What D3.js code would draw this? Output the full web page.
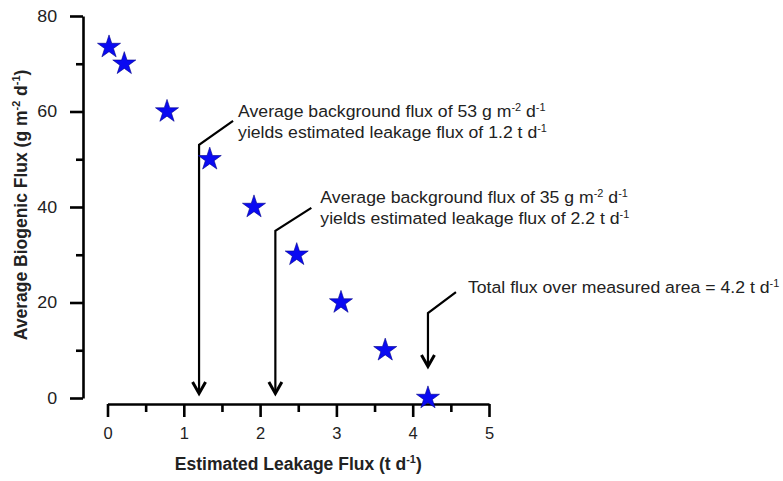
<!DOCTYPE html>
<html>
<head>
<meta charset="utf-8">
<script src="https://cdn.jsdelivr.net/npm/d3@7"></script>
<style>
  html, body { margin: 0; padding: 0; background: #fff; }
  svg { display: block; font-family: "Liberation Sans", Arial, sans-serif; }
</style>
</head>
<body>
<svg id="chart" width="783" height="481"></svg>
<script>
// Estimated leakage flux versus assumed average biogenic (background) flux
const leakageFlux = [0.02, 0.22, 0.78, 1.34, 1.92, 2.48, 3.06, 3.64, 4.2];
const biogenicFlux = [73.5, 70, 60, 50, 40, 30, 20, 10, 0];

const xMajorTicks = [0, 1, 2, 3, 4, 5];
const xMinorTicks = [0.5, 1.5, 2.5, 3.5, 4.5];
const yMajorTicks = [0, 20, 40, 60, 80];
const yMinorTicks = [10, 30, 50, 70];

// Annotations: leakage estimate (x), background flux at the elbow (y), two text lines
const annoLeakage = [1.2, 2.2, 4.2];
const annoBackground = [53, 35, 17.8];
const annoLine1 = [
  [["Average background flux of 53 g m", false], ["-2", true], [" d", false], ["-1", true]],
  [["Average background flux of 35 g m", false], ["-2", true], [" d", false], ["-1", true]],
  [["Total flux over measured area = 4.2 t d", false], ["-1", true]]
];
const annoLine2 = [
  [["yields estimated leakage flux of 1.2 t d", false], ["-1", true]],
  [["yields estimated leakage flux of 2.2 t d", false], ["-1", true]],
  []
];

const svg = d3.select("#chart");

const x = d3.scaleLinear().domain([0, 5]).range([107.5, 489]);
const y = d3.scaleLinear().domain([0, 80]).range([398, 16]);

const yAxisX = 83;
const xAxisY = 404;
const ink = "#000";
const labelInk = "#222";

// Y axis
const yAxis = svg.append("g").attr("transform", `translate(${yAxisX},0)`);
yAxis.call(d3.axisLeft(y).tickValues(yMajorTicks).tickFormat(d3.format("d"))
  .tickSize(13).tickPadding(11).tickSizeOuter(0));
yAxis.append("g").call(d3.axisLeft(y).tickValues(yMinorTicks).tickSize(7).tickFormat("").tickSizeOuter(0))
  .select("path.domain").remove();
yAxis.selectAll("path.domain").attr("stroke", ink).attr("stroke-width", 2.6);
yAxis.selectAll(".tick line").attr("stroke", ink).attr("stroke-width", 2.6);
yAxis.selectAll(".tick text")
  .attr("font-size", 16.5).attr("fill", labelInk).attr("font-family", "Liberation Sans, Arial, sans-serif")
  .attr("transform", "scale(1.08,1)");

// X axis
const xAxis = svg.append("g").attr("transform", `translate(0,${xAxisY})`);
xAxis.call(d3.axisBottom(x).tickValues(xMajorTicks).tickFormat(d3.format("d"))
  .tickSize(13).tickPadding(10).tickSizeOuter(0));
xAxis.append("g").call(d3.axisBottom(x).tickValues(xMinorTicks).tickSize(8).tickFormat("").tickSizeOuter(0))
  .select("path.domain").remove();
xAxis.selectAll("path.domain").attr("stroke", ink).attr("stroke-width", 2.6);
xAxis.selectAll(".tick line").attr("stroke", ink).attr("stroke-width", 2.6);
xAxis.selectAll(".tick text")
  .attr("font-size", 16.5).attr("fill", labelInk).attr("font-family", "Liberation Sans, Arial, sans-serif");

// Helper to write text runs with superscripts
function writeRuns(textSel, runs, size) {
  runs.forEach(([str, sup], i) => {
    const t = textSel.append("tspan").text(str);
    if (sup) {
      t.attr("font-size", size * 0.62).attr("dy", -size * 0.38);
    } else if (i > 0 && runs[i - 1][1]) {
      t.attr("dy", size * 0.38);
    }
  });
}

// Axis titles
const titleSize = 17.5;
const xTitle = svg.append("text")
  .attr("x", (x.range()[0] + x.range()[1]) / 2)
  .attr("y", 470)
  .attr("text-anchor", "middle")
  .attr("font-size", titleSize).attr("font-weight", "bold").attr("fill", labelInk);
writeRuns(xTitle, [["Estimated Leakage Flux (t d", false], ["-1", true], [")", false]], titleSize);

const yTitle = svg.append("text")
  .attr("transform", `translate(27,${(y.range()[0] + y.range()[1]) / 2 - 2}) rotate(-90)`)
  .attr("text-anchor", "middle")
  .attr("font-size", titleSize).attr("font-weight", "bold").attr("fill", labelInk);
writeRuns(yTitle, [["Average Biogenic Flux (g m", false], ["-2", true], [" d", false], ["-1", true], [")", false]], titleSize);

// Annotation leaders and arrows
const leaderOffsets = [[34, -24], [36, -23], [28, -21]];
const textOffsets = [[39, -28], [45, -28], [40, -20]];
const arrowTips = [395, 395, 368];

annoLeakage.forEach((lx, i) => {
  const ex = x(lx), ey = y(annoBackground[i]);
  const [dx, dy] = leaderOffsets[i];
  const tipY = arrowTips[i];
  svg.append("path")
    .attr("d", `M${ex + dx},${ey + dy} L${ex},${ey} L${ex},${tipY - 2}`)
    .attr("fill", "none").attr("stroke", ink).attr("stroke-width", 2.2);
  svg.append("path")
    .attr("d", `M${ex - 6.5},${tipY - 13} L${ex},${tipY - 1.5} L${ex + 6.5},${tipY - 13}`)
    .attr("fill", "none").attr("stroke", ink).attr("stroke-width", 3)
    .attr("stroke-linejoin", "miter");

  const [tx, ty] = textOffsets[i];
  const fs = 16.5;
  const t1 = svg.append("text")
    .attr("transform", `translate(${ex + tx},${ey + ty}) scale(1.07,1)`)
    .attr("font-size", fs).attr("fill", labelInk);
  writeRuns(t1, annoLine1[i], fs);
  if (annoLine2[i].length) {
    const t2 = svg.append("text")
      .attr("transform", `translate(${ex + tx},${ey + ty + 21}) scale(1.07,1)`)
      .attr("font-size", fs).attr("fill", labelInk);
    writeRuns(t2, annoLine2[i], fs);
  }
});

// Data points as stars
const star = d3.symbol().type(d3.symbolStar).size(165);
svg.append("g").selectAll("path")
  .data(leakageFlux.map((v, i) => [v, biogenicFlux[i]]))
  .join("path")
  .attr("d", star)
  .attr("transform", d => `translate(${x(d[0])},${y(d[1])})`)
  .attr("fill", "#0a0af2")
  .attr("stroke", "#00008a")
  .attr("stroke-width", 0.6);
</script>
</body>
</html>
